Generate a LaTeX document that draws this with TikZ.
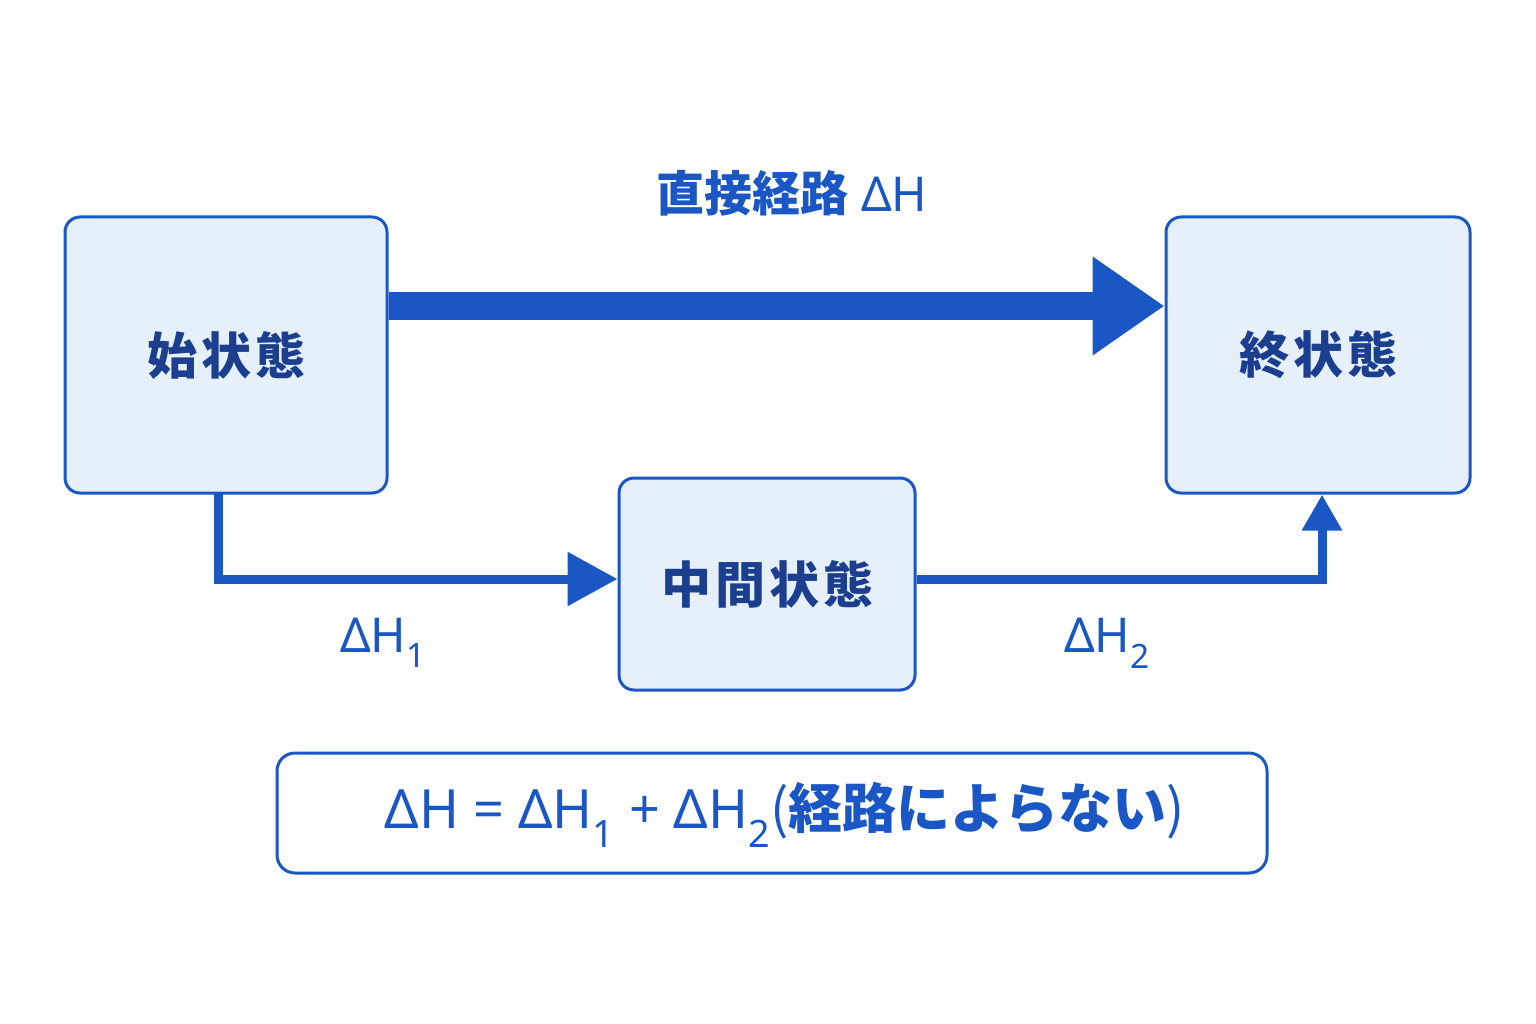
\documentclass[tikz,border=0pt]{standalone}
\usepackage{fontspec}
\setmainfont{Noto Sans}
\newfontfamily\cjk{Noto Sans CJK JP}
\newfontfamily\bi{Noto Sans}[BoldFeatures={FakeSlant=0.2}]
\usetikzlibrary{arrows.meta}
\definecolor{bl}{HTML}{1A56C4}
\definecolor{dk}{HTML}{1B3F8E}
\definecolor{fl}{HTML}{E6F0FB}
\newcommand{\dH}{{\bi\bfseries ΔH}}
\newcommand{\sbs}[1]{\textsubscript{\mdseries\upshape #1}}
\begin{document}
\begin{tikzpicture}[x=1pt,y=-1pt,
 box/.style={draw=bl,line width=3pt,fill=fl,rounded corners=15pt,inner sep=0pt},
 lab/.style={text=bl,font=\fontsize{48}{52}\selectfont\bfseries},
 btxt/.style={text=dk,font=\cjk\fontsize{50}{54}\selectfont\bfseries\addfontfeatures{LetterSpace=8}}]
\useasboundingbox[fill=white] (0,0) rectangle (1536,1024);
\node[box,minimum width=322pt,minimum height=276pt] (s) at (226,355) {};
\node[btxt] at (s) {始状態};
\node[box,minimum width=304pt,minimum height=276pt] (f) at (1318,355) {};
\node[btxt] at (f) {終状態};
\node[box,minimum width=296pt,minimum height=212pt] (m) at (767,584) {};
\node[btxt] at (m) {中間状態};
\node[draw=bl,line width=3pt,fill=white,rounded corners=18pt,minimum width=990pt,minimum height=120pt] (e) at (772,813) {};
\node[lab,font=\fontsize{54}{58}\selectfont\bfseries] at (785,815) {\dH{} = \dH\sbs{1} + \dH\sbs{2}{\cjk\mdseries (}{\cjk 経路によらない}{\cjk\mdseries )}};
\coordinate (a1) at (218,493);
\coordinate (a2) at (218,579);
\coordinate (c1) at (1322,579);
\draw[bl,line width=28pt,-{Triangle[length=72pt,width=94pt]}] (s.east|-0,306) -- (f.west|-0,306);
\draw[bl,line width=9pt,-{Triangle[length=50pt,width=52pt]}] (a1) -- (a2) -- (m.west|-a2);
\draw[bl,line width=9pt,-{Triangle[length=36pt,width=38pt]}] (m.east|-c1) -- (c1) -- (f.south-|c1);
\node[lab] at (792,193) {{\cjk 直接経路} \dH};
\node[lab] at (383,643) {\dH\sbs{1}};
\node[lab] at (1107,643) {\dH\sbs{2}};
\end{tikzpicture}
\end{document}
